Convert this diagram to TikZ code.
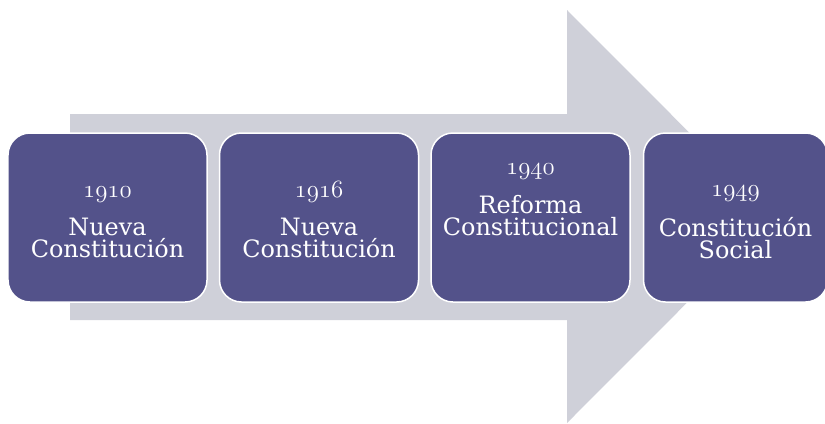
\documentclass[tikz,border=0pt]{standalone}
\usepackage{fontspec}
\usetikzlibrary{positioning}
\newfontfamily\stagefont{DejaVu Serif}
\newcommand\yearnum[1]{{\usefont{OML}{cmm}{m}{it}\fontsize{29}{22}\selectfont#1}}
\definecolor{stagefill}{RGB}{83,82,138}
\definecolor{arrowgray}{RGB}{207,208,217}

\begin{document}
\begin{tikzpicture}[x=1bp, y=-1bp,
  every node/.style={font=\stagefont\fontsize{24}{22}\selectfont, text=white, align=center},
  stage/.style={draw=white, line width=1.5bp, fill=stagefill, rounded corners=22bp,
    minimum width=199bp, minimum height=169bp, inner sep=0pt},
]
\useasboundingbox (0,0) rectangle (825,423);
\fill[arrowgray] (70,114) -- (567,114) -- (567,10) -- (773,216.5) -- (567,423) -- (567,320) -- (70,320) -- cycle;
\node[stage] (y1910) at (107.5,217.5) {\rule{0pt}{20pt}\yearnum{1910}\\[15pt] Nueva\\ Constitución};
\node[stage, right=11bp of y1910] (y1916) {\rule{0pt}{20pt}\yearnum{1916}\\[15pt] Nueva\\ Constitución};
\node[stage, right=11bp of y1916] (y1940) {\yearnum{1940}\\[15pt] Reforma\\ Constitucional\\[14pt] \mbox{}};
\node[stage, right=12bp of y1940, minimum width=184bp] (y1949) {\rule{0pt}{20pt}\yearnum{1949}\\[15pt] Constitución\\ Social};
\end{tikzpicture}
\end{document}
